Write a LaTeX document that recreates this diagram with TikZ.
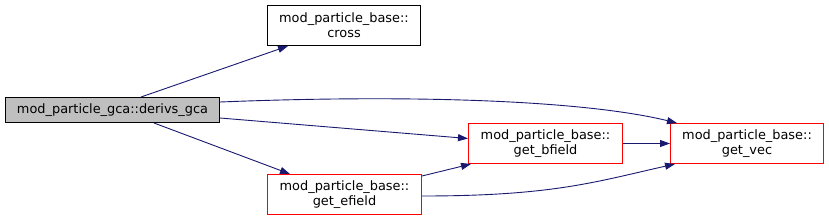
\documentclass[tikz,border=0pt]{standalone}
\usepackage{fontspec}
\setmainfont{DejaVu Sans}
\usetikzlibrary{arrows.meta}
\definecolor{edgeblue}{HTML}{191970}
\definecolor{gcagray}{HTML}{BFBFBF}
\definecolor{calledred}{HTML}{FF0000}
\begin{document}
\begin{tikzpicture}[x=1pt,y=-1pt,>={Triangle[length=10pt,width=7pt]},
    fn/.style={draw=black,fill=white,line width=1pt,align=center,inner sep=0pt,minimum width=154pt,minimum height=40pt,font=\fontsize{12.9}{15}\selectfont},
    redfn/.style={fn,draw=calledred},
    call/.style={->,draw=edgeblue,line width=0.9pt}]
    \useasboundingbox (0,0) rectangle (829,220);
    \node [fn,fill=gcagray,minimum width=214pt,minimum height=25pt] (derivs) at (112.5,110) {mod\_particle\_gca::derivs\_gca};
    \node [fn,minimum width=153pt] (cross) at (344,25.5) {mod\_particle\_base::\\cross};
    \node [redfn] (bfield) at (545.5,143.5) {mod\_particle\_base::\\get\_bfield};
    \node [redfn,minimum width=153pt] (vec) at (747,143.5) {mod\_particle\_base::\\get\_vec};
    \node [redfn] (efield) at (344.5,194.5) {mod\_particle\_base::\\get\_efield};
    \draw [call] ([xshift=28.5pt]derivs.north) -- ([xshift=-56pt]cross.south);
    \draw [call] ([yshift=8pt]derivs.east) .. controls +(200,-8) and +(-90,-22) .. ([xshift=-70pt]vec.north);
    \draw [call] ([yshift=-8pt]derivs.east) -- ([yshift=5pt]bfield.west);
    \draw [call] ([xshift=41.5pt]derivs.south) -- ([xshift=-54.5pt]efield.north);
    \draw [call] (bfield.east) -- (vec.west);
    \draw [call] ([yshift=-2pt]efield.north east) -- ([xshift=3pt]bfield.south west);
    \draw [call] ([yshift=-1.5pt]efield.east) .. controls +(130,0) and +(-80,18) .. ([xshift=5pt]vec.south west);
\end{tikzpicture}
\end{document}
